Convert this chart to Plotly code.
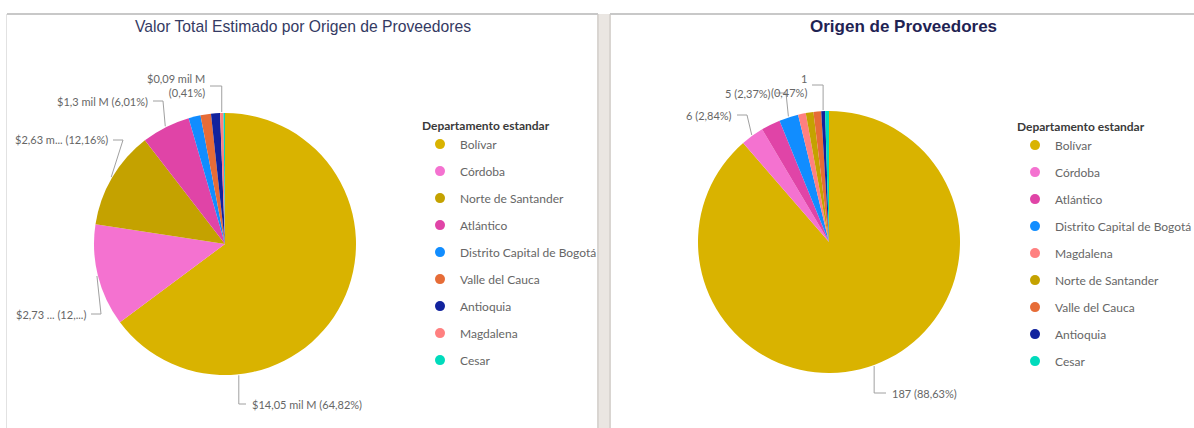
import math
import plotly.graph_objects as go

# ---------------- data ----------------
left_departments = ["Bolívar", "Córdoba", "Norte de Santander", "Atlántico",
                    "Distrito Capital de Bogotá", "Valle del Cauca", "Antioquia",
                    "Magdalena", "Cesar"]
left_values = [14.05, 2.73, 2.63, 1.30, 0.32, 0.28, 0.24, 0.09, 0.04]  # mil M
left_colors = ["#D9B300", "#F472D0", "#C4A200", "#E044A7", "#118DFF",
               "#E66C37", "#12239E", "#FF8080", "#00DBBC"]
left_label_departments = ["Bolívar", "Córdoba", "Norte de Santander", "Atlántico", "Magdalena"]
left_label_texts = ["$14,05 mil M (64,82%)", "$2,73 ... (12,...)", "$2,63 m... (12,16%)",
                    "$1,3 mil M (6,01%)", "$0,09 mil M<br>(0,41%)"]

right_departments = ["Bolívar", "Córdoba", "Atlántico", "Distrito Capital de Bogotá",
                     "Magdalena", "Norte de Santander", "Valle del Cauca", "Antioquia", "Cesar"]
right_values = [187, 6, 5, 5, 2, 2, 2, 1, 1]
right_colors = ["#D9B300", "#F472D0", "#E044A7", "#118DFF", "#FF8080",
                "#C4A200", "#E66C37", "#12239E", "#00DBBC"]
right_label_departments = ["Bolívar", "Córdoba", "Distrito Capital de Bogotá", "Antioquia"]
right_label_texts = ["187 (88,63%)", "6 (2,84%)", "5 (2,37%)", "1<br>(0,47%)"]

left_title = "Valor Total Estimado por Origen de Proveedores"
right_title = "<b>Origen de Proveedores</b>"
legend_title = "<b>Departamento estandar</b>"

# ---------------- geometry helpers (pixels -> paper) ----------------
W, H = 1194, 428
def fx(x): return x / W
def fy(y): return 1 - y / H

R = 131
LC = (225, 244)
RC = (829, 242)

FONT = "Lato, 'Segoe UI', 'Open Sans', sans-serif"
LABEL_COLOR = "#666666"
LINE_COLOR = "#A0A0A0"

fig = go.Figure()

def add_pie(center, labels, values, colors, fmt):
    cx, cy = center
    fig.add_trace(go.Pie(
        labels=labels, values=values, sort=False, direction="clockwise", rotation=0,
        marker=dict(colors=colors, line=dict(width=0)),
        textinfo="none", showlegend=False,
        domain=dict(x=[fx(cx - R), fx(cx + R)], y=[fy(cy + R), fy(cy - R)]),
        hovertemplate="%{label}<br>" + fmt + " (%{percent})<extra></extra>",
    ))

add_pie(LC, left_departments, left_values, left_colors, "$%{value:,.2f} mil M")
add_pie(RC, right_departments, right_values, right_colors, "%{value}")

# legends built from the same lists
def add_legend(labels, colors, legend_id):
    for i, (lab, col) in enumerate(zip(labels, colors)):
        fig.add_trace(go.Scatter(
            x=[None], y=[None], mode="markers", name=lab,
            marker=dict(symbol="circle", size=10, color=col),
            legend=legend_id, legendgroup=f"{legend_id}_{i}", showlegend=True,
            hoverinfo="skip",
        ))

add_legend(left_departments, left_colors, "legend")
add_legend(right_departments, right_colors, "legend2")

# ---------------- data labels with leader lines ----------------
def slice_mid_angle(labels, values, name):
    total = sum(values)
    cum = 0
    for lab, v in zip(labels, values):
        if lab == name:
            return 360 * (cum + v / 2) / total
        cum += v
    return 0

def edge_point(center, ang, extra=1):
    cx, cy = center
    a = math.radians(ang)
    return cx + (R + extra) * math.sin(a), cy - (R + extra) * math.cos(a)

shapes = []
annotations = []

def add_label(center, ang, text, tx, ty, style):
    ex, ey = edge_point(center, ang)
    if style == "down-right":      # vertical then horizontal to the right
        pts = [(ex, ey), (ex, ty), (tx - 4, ty)]
        xanchor = "left"
    elif style == "up-left":       # vertical then horizontal to the left
        pts = [(ex, ey), (ex, ty), (tx + 3, ty)]
        xanchor = "right"
    else:                          # diagonal then horizontal to the left
        pts = [(ex, ey), (tx + 13, ty), (tx + 3, ty)]
        xanchor = "right"
    path = "M " + " L ".join(f"{fx(px)},{fy(py)}" for px, py in pts)
    shapes.append(dict(type="path", xref="paper", yref="paper", path=path,
                       line=dict(color=LINE_COLOR, width=1)))
    annotations.append(dict(x=fx(tx), y=fy(ty), xref="paper", yref="paper", text=text,
                            showarrow=False, xanchor=xanchor, yanchor="middle",
                            font=dict(family=FONT, size=11, color=LABEL_COLOR),
                            align="right" if xanchor == "right" else "left"))

# left pie label placement (angle override, text x, text y, style)
left_label_layout = [
    (174, 250, 404, "down-right"),
    (None, 88, 314, "diag-left"),
    (None, 110, 140, "diag-left"),
    (None, 150, 101, "diag-left"),
    (None, 207, 86, "up-left"),
]
for dep, txt, (ang, tx, ty, st) in zip(left_label_departments, left_label_texts, left_label_layout):
    a = ang if ang is not None else slice_mid_angle(left_departments, left_values, dep)
    add_label(LC, a, txt, tx, ty, st)

right_label_layout = [
    (160, 890, 393, "down-right"),
    (None, 734, 115, "diag-left"),
    (None, 773, 93, "diag-left"),
    (None, 809, 85, "up-left"),
]
for dep, txt, (ang, tx, ty, st) in zip(right_label_departments, right_label_texts, right_label_layout):
    a = ang if ang is not None else slice_mid_angle(right_departments, right_values, dep)
    add_label(RC, a, txt, tx, ty, st)

# ---------------- panels / background ----------------
def rect(x0, y0, x1, y1, fill, layer="below"):
    shapes.append(dict(type="rect", xref="paper", yref="paper",
                       x0=fx(x0), x1=fx(x1), y0=fy(y1), y1=fy(y0),
                       fillcolor=fill, line=dict(width=0), layer=layer))

rect(598, 14, 610, 428, "#EAE6E2")
rect(597, 14, 599, 428, "#D9D5D1")
rect(609, 14, 611, 428, "#D9D5D1")
rect(7, 13, 598, 15, "#C8C8C8")
rect(610, 13, 1194, 15, "#C8C8C8")
rect(6, 14, 7, 428, "#E2E2E2")

# titles
annotations.append(dict(x=fx(303), y=fy(27), xref="paper", yref="paper", text=left_title,
                        showarrow=False, xanchor="center", yanchor="middle",
                        font=dict(family="'Liberation Sans', Arial, sans-serif", size=15.7,
                                  color="#343A63")))
annotations.append(dict(x=fx(903), y=fy(27), xref="paper", yref="paper", text=right_title,
                        showarrow=False, xanchor="center", yanchor="middle",
                        font=dict(family="'Liberation Sans', Arial, sans-serif", size=17,
                                  color="#1F2353")))

legend_common = dict(
    xanchor="left", yanchor="top", bgcolor="rgba(0,0,0,0)",
    font=dict(family=FONT, size=12, color="#666666"),
    title=dict(text=legend_title, font=dict(family=FONT, size=12, color="#3A3A3A")),
    tracegroupgap=8, itemclick="toggle",
)

fig.update_layout(
    width=W, height=H, margin=dict(l=0, r=0, t=0, b=0, autoexpand=False),
    paper_bgcolor="white", plot_bgcolor="rgba(0,0,0,0)",
    xaxis=dict(visible=False, range=[0, 1]), yaxis=dict(visible=False, range=[0, 1]),
    legend=dict(x=fx(420), y=fy(114), **legend_common),
    legend2=dict(x=fx(1015), y=fy(115), **legend_common),
    shapes=shapes, annotations=annotations,
    hoverlabel=dict(font=dict(family=FONT)),
)

fig.write_html("out.html", config={"displayModeBar": False},
               post_script="document.body.style.margin='0';document.body.style.overflow='hidden';")
